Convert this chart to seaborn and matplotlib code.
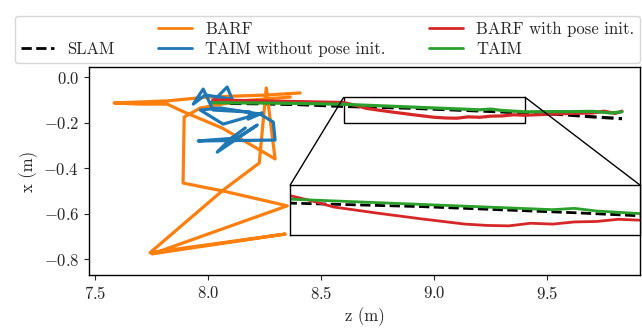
import numpy as np
import pandas as pd
import matplotlib
matplotlib.use("Agg")
import matplotlib.pyplot as plt
import seaborn as sns
from matplotlib.lines import Line2D
from mpl_toolkits.axes_grid1.inset_locator import mark_inset

sns.set_style("ticks")
plt.rcParams["font.family"] = "serif"
plt.rcParams["font.serif"] = ["cmr10", "DejaVu Serif"]
plt.rcParams["mathtext.fontset"] = "cm"
plt.rcParams["axes.formatter.use_mathtext"] = True
plt.rcParams["axes.unicode_minus"] = True

# ---- data ----
slam_z = [8.02, 8.2, 8.4, 8.6, 8.75, 8.9, 9.0, 9.1, 9.25, 9.4, 9.55, 9.7, 9.83]
slam_x = [-0.115, -0.117, -0.121, -0.129, -0.133, -0.137, -0.141, -0.145, -0.151,
          -0.158, -0.164, -0.175, -0.183]

barf_z = [8.407, 8.261, 7.996, 7.819, 7.584, 7.699, 7.819, 7.894, 8.062, 8.296,
          8.257, 8.226, 8.066, 7.743, 8.341, 7.752, 7.779, 8.350, 8.066, 7.889,
          7.894, 7.965, 8.142, 8.363]
barf_x = [-0.070, -0.079, -0.088, -0.105, -0.114, -0.119, -0.119, -0.154, -0.224,
          -0.360, -0.048, -0.378, -0.497, -0.772, -0.690, -0.777, -0.768, -0.566,
          -0.501, -0.466, -0.176, -0.136, -0.105, -0.088]

taimw_z = [8.018, 8.084, 8.106, 7.987, 7.934, 7.978, 8.022, 8.186, 8.177, 8.239,
           8.066, 7.965, 8.053, 8.230, 8.288, 8.296, 7.956, 8.128, 8.217, 8.040,
           8.097, 8.164]
taimw_x = [-0.110, -0.044, -0.097, -0.079, -0.119, -0.053, -0.145, -0.154, -0.185,
           -0.158, -0.207, -0.145, -0.136, -0.163, -0.198, -0.277, -0.281, -0.268,
           -0.211, -0.330, -0.273, -0.224]

barfp_z = [8.02, 8.2, 8.4, 8.6, 8.65, 8.7, 8.8, 8.9, 9.0, 9.05, 9.1, 9.15, 9.2,
           9.25, 9.3, 9.35, 9.4, 9.5, 9.6, 9.7, 9.75, 9.8, 9.83]
barfp_x = [-0.101, -0.104, -0.108, -0.112, -0.124, -0.138, -0.152, -0.165, -0.177,
           -0.180, -0.181, -0.175, -0.177, -0.172, -0.171, -0.166, -0.168, -0.164,
           -0.160, -0.158, -0.150, -0.160, -0.150]

taim_z = [8.02, 8.2, 8.4, 8.6, 8.7, 8.8, 8.9, 9.0, 9.1, 9.2, 9.25, 9.3, 9.4, 9.5,
          9.6, 9.7, 9.78, 9.83]
taim_x = [-0.113, -0.114, -0.116, -0.120, -0.124, -0.128, -0.132, -0.136, -0.140,
          -0.144, -0.141, -0.147, -0.153, -0.152, -0.152, -0.151, -0.158, -0.153]

series = [
    ("SLAM", slam_z, slam_x, "black", "--"),
    ("BARF", barf_z, barf_x, "#ff7f0e", "-"),
    ("TAIM without pose init.", taimw_z, taimw_x, "#1f77b4", "-"),
    ("BARF with pose init.", barfp_z, barfp_x, "#d62728", "-"),
    ("TAIM", taim_z, taim_x, "#2ca02c", "-"),
]

fig = plt.figure(figsize=(6.42, 3.28), dpi=100)
ax = fig.add_axes([0.1386, 0.1616, 0.8584, 0.6341])

def draw(a, lw):
    for name, z, x, c, ls in series:
        df = pd.DataFrame({"z": z, "x": x})
        sns.lineplot(data=df, x="z", y="x", sort=False, estimator=None, ax=a,
                     color=c, linestyle=ls, linewidth=lw, legend=False)

draw(ax, 2.3)
ax.set_xlim(7.473, 9.91)
ax.set_ylim(-0.87, 0.044)
ax.set_xticks([7.5, 8.0, 8.5, 9.0, 9.5])
ax.set_yticks([0.0, -0.2, -0.4, -0.6, -0.8])
ax.tick_params(labelsize=12)
ax.set_xlabel("z (m)", fontsize=12)
ax.set_ylabel("x (m)", fontsize=12)
for s in ax.spines.values():
    s.set_color("black")
    s.set_linewidth(1.0)

axins = ax.inset_axes([0.365, 0.192, 0.635, 0.24])
draw(axins, 2.0)
axins.set_xlim(8.60, 9.40)
axins.set_ylim(-0.202, -0.088)
axins.set_xticks([])
axins.set_yticks([])
axins.set_xlabel("")
axins.set_ylabel("")
for s in axins.spines.values():
    s.set_color("black")
    s.set_linewidth(1.0)
mark_inset(ax, axins, loc1=1, loc2=2, fc="none", ec="black", lw=1.0)

handles = [Line2D([], [], color="none", label=" ")]
for name, z, x, c, ls in series:
    handles.append(Line2D([], [], color=c, linestyle=ls, linewidth=2.0, label=name))
fig.legend(handles=handles, ncol=3, loc="lower left",
           bbox_to_anchor=(0.023, 0.808, 0.974, 0.14), mode="expand",
           fontsize=12, frameon=True, handlelength=2.0, borderaxespad=0.0,
           labelspacing=0.3, borderpad=0.35)

fig.savefig("out.png", dpi=100)
